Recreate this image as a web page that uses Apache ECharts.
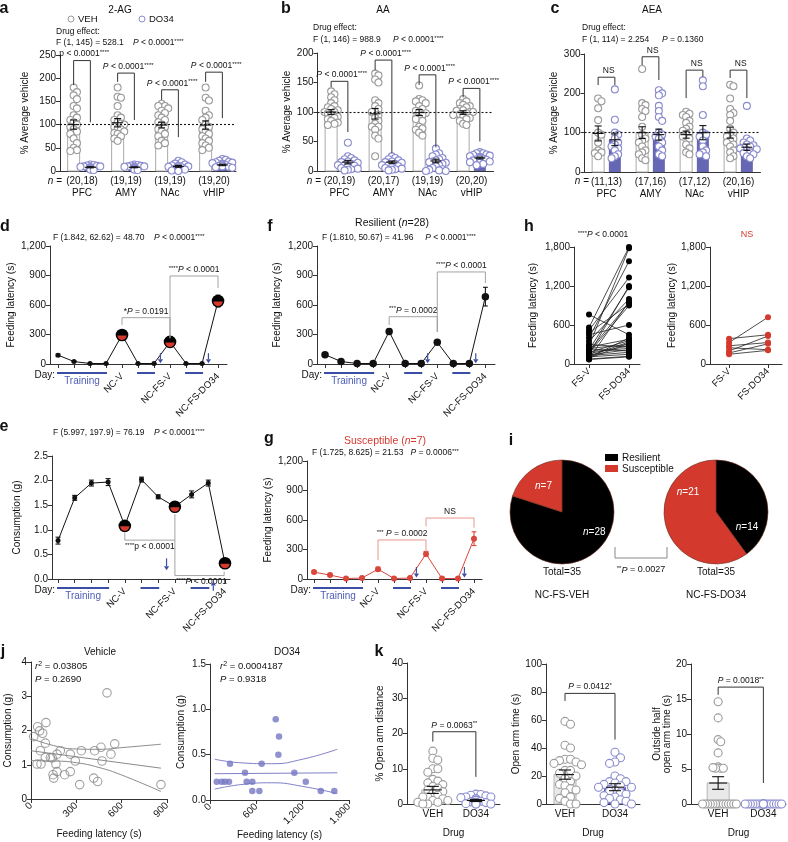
<!DOCTYPE html>
<html>
<head>
<meta charset="utf-8">
<script src="https://cdn.jsdelivr.net/npm/echarts@6.0.0/dist/echarts.min.js"></script>
<style>
html,body{margin:0;padding:0;background:#fff;}
#chart{width:788px;height:842px;}
</style>
</head>
<body>
<div id="chart"></div>
<script>
const FONT = '"Liberation Sans", Arial, Helvetica, sans-serif';

/* ======================= DATA ======================= */
const regions = ['PFC', 'AMY', 'NAc', 'vHIP'];

// a: 2-AG
const aN = ['(20,18)', '(19,19)', '(19,19)', '(19,20)'];
const aVehMean = [100, 104, 99, 99];
const aVehSem = [10, 9, 6, 9];
const aDoMean = [8, 8, 10, 13];
const aDoSem = [1.2, 1, 2, 1.5];
const aVehPts = [
  [180, 170, 163, 155, 140, 135, 120, 115, 110, 105, 100, 95, 90, 85, 80, 70, 60, 50, 45, 43],
  [180, 160, 158, 140, 120, 115, 110, 105, 102, 100, 95, 92, 90, 85, 82, 80, 75, 70, 65],
  [145, 140, 140, 135, 130, 125, 120, 115, 110, 105, 100, 95, 90, 85, 80, 75, 65, 60, 55],
  [180, 158, 152, 130, 120, 115, 110, 100, 95, 90, 85, 80, 75, 70, 65, 60, 55, 50, 45]
];
const aDoPts = [
  [14, 13, 12, 11, 10, 10, 9, 8, 8, 7, 7, 6, 6, 5, 5, 4, 3, 2],
  [14, 13, 12, 11, 10, 10, 9, 9, 8, 8, 7, 7, 6, 6, 5, 5, 4, 3, 2],
  [22, 19, 16, 14, 12, 11, 10, 9, 8, 8, 7, 6, 5, 5, 4, 3, 2, 1, 0],
  [26, 24, 22, 20, 19, 18, 17, 16, 15, 14, 14, 13, 12, 12, 11, 10, 10, 9, 8, 7]
];
const aBrkTop = [238, 211, 175, 213];
const aBrkLeft = [185, 192, 153, 192];
const aBrkRight = [105, 110, 73, 114];
const aBrkLab = ['p < 0.0001{s|****}', '{i|P} < 0.0001{s|****}', '{i|P} < 0.0001{s|****}', '{i|P} < 0.0001{s|****}'];

// b: AA
const bN = ['(20,19)', '(20,17)', '(19,19)', '(20,20)'];
const bVehMean = [100, 97, 99, 99];
const bVehSem = [4, 9, 5, 3];
const bDoMean = [15, 15, 17, 22];
const bDoSem = [3, 2, 3, 1.5];
const bVehPts = [
  [135, 130, 125, 120, 115, 110, 108, 105, 103, 100, 100, 98, 95, 92, 90, 88, 85, 82, 80, 78],
  [165, 162, 155, 150, 120, 115, 110, 105, 100, 100, 95, 90, 85, 80, 75, 75, 70, 60, 55, 25],
  [145, 122, 120, 118, 115, 110, 105, 102, 100, 98, 95, 90, 88, 85, 75, 72, 70, 65, 60],
  [122, 118, 115, 112, 110, 108, 105, 103, 102, 100, 100, 98, 96, 95, 92, 90, 88, 85, 80, 78]
];
const bDoPts = [
  [48, 25, 22, 20, 18, 16, 15, 14, 12, 10, 10, 9, 8, 7, 5, 4, 3, 2, 1],
  [25, 22, 20, 18, 16, 15, 14, 12, 10, 10, 8, 6, 5, 4, 3, 2, 1],
  [38, 30, 28, 25, 22, 20, 18, 16, 15, 14, 12, 10, 8, 5, 3, 2, 1, 0, 0],
  [32, 30, 30, 28, 27, 26, 25, 24, 22, 22, 21, 20, 20, 19, 18, 16, 15, 14, 12, 10]
];
const bBrkTop = [152, 188, 163, 140];
const bBrkLeft = [142, 171, 146, 125];
const bBrkRight = [66, 30, 40, 50];
const bBrkLab = ['{i|P} < 0.0001{s|****}', '{i|P} < 0.0001{s|****}', '{i|P} < 0.0001{s|****}', '{i|P} < 0.0001{s|****}'];

// c: AEA
const cN = ['(11,13)', '(17,16)', '(17,12)', '(20,16)'];
const cVehMean = [98, 100, 95, 100];
const cVehSem = [19, 15, 9, 14];
const cDoMean = [82, 95, 100, 63];
const cDoSem = [15, 14, 18, 8];
const cVehPts = [
  [187, 180, 162, 132, 100, 95, 75, 55, 50, 48, 40],
  [262, 175, 170, 160, 155, 140, 115, 95, 85, 80, 75, 65, 55, 50, 45, 35, 30],
  [153, 148, 145, 140, 130, 125, 115, 110, 105, 100, 95, 90, 85, 70, 60, 50, 45],
  [222, 218, 187, 160, 150, 145, 130, 110, 100, 95, 90, 85, 80, 75, 70, 65, 55, 50, 40, 35]
];
const cDoPts = [
  [210, 133, 100, 95, 85, 75, 70, 65, 60, 55, 45, 40, 35],
  [208, 200, 195, 168, 155, 140, 130, 100, 95, 90, 85, 75, 65, 55, 45, 40],
  [233, 218, 145, 100, 95, 90, 80, 65, 55, 50, 45, 40],
  [168, 85, 80, 75, 70, 68, 65, 62, 60, 58, 55, 50, 48, 45, 40, 35]
];
const cBrkTop = [241, 293, 259, 259];
const cBrkLeft = [221, 272, 188, 239];
const cBrkRight = [221, 234, 242, 188];
const cBrkLab = ['NS', 'NS', 'NS', 'NS'];

// d, e, f, g: day series
const dayIdx = [0, 1, 2, 3, 4, 5, 6, 7, 8, 9, 10];
const dayNames = ['', '', '', '', 'NC-V', '', '', 'NC-FS-V', '', '', 'NC-FS-DO34'];
const bigIdx = [4, 7, 10];
const dayBlocks = [[0, 3], [5, 6], [8, 9]];
const dVals = [90, 25, 5, 5, 295, 5, 5, 225, 5, 5, 640];
const dSem = [12, 6, 2, 2, 25, 2, 2, 20, 2, 2, 60];
const dBrk = [[4, 7, 471, 397, 262, 5.5], [7, 10, 895, 262, 773, 8.5]];
const dBrkLab = ['*{i|P} = 0.0191', '{s|****}{i|P} < 0.0001'];
const dArrows = [[6.4, 110, 8], [9.4, 110, 8]];

const fVals = [95, 25, 5, 5, 330, 5, 5, 220, 5, 5, 685];
const fSem = [12, 6, 2, 2, 25, 2, 2, 20, 2, 2, 95];
const fBrk = [[4, 7, 481, 397, 325, 5.5], [7, 10, 936, 325, 824, 8.5]];
const fBrkLab = ['{s|***}{i|P} = 0.0002', '{s|****}{i|P} < 0.0001'];
const fArrows = [[6.4, 110, 8], [9.4, 110, 8]];

const eVals = [0.78, 1.65, 1.95, 1.97, 1.08, 2.02, 1.67, 1.47, 1.72, 1.95, 0.32];
const eSem = [0.07, 0.05, 0.06, 0.07, 0.07, 0.05, 0.04, 0.05, 0.07, 0.06, 0.05];
const eBrk = [[4, 7, 0.79, 0.93, 1.32, 5.5], [7, 9.95, 0.07, 0.79, 0.15, 8.6]];
const eBrkLab = ['{s|****}p < 0.0001', '{s|****}{i|P} < 0.0001'];
const eArrows = [[6.5, 0.42, 0.18], [9.3, -0.24, -0.05]];

const gVals = [70, 40, 5, 10, 100, 5, 10, 255, 5, 5, 410];
const gSem = [10, 8, 3, 3, 20, 3, 3, 25, 3, 3, 70];
const gBrk = [[4, 7, 397, 193, 275, 5.5], [7, 10, 620, 536, 522, 8.5]];
const gBrkLab = ['{s|***} {i|P} = 0.0002', 'NS'];
const gArrows = [[6.4, 122, 15], [9.4, 122, 15]];

// h: paired feeding latency
const hCats = ['FS-V', 'FS-DO34'];
const hResFsv = [760, 560, 520, 480, 450, 400, 350, 300, 280, 260, 240, 220, 200, 190, 180, 170, 160, 150, 140, 130, 120, 110, 100, 90, 80, 75, 70, 230];
const hResDo = [450, 1800, 1330, 920, 600, 1580, 1000, 260, 1780, 380, 300, 1180, 940, 240, 360, 900, 280, 1200, 220, 180, 340, 150, 400, 320, 960, 120, 110, 200];
const hSusFsv = [390, 330, 280, 250, 200, 170, 150];
const hSusDo = [450, 720, 330, 220, 430, 310, 210];

// i: pies
const iVeh = [28, 7];
const iDo = [14, 21];
const iNames = ['Resilient', 'Susceptible'];

// j: correlations
const jVehX = [18, 44, 57, 77, 99, 95, 62, 40, 66, 95, 128, 146, 150, 165, 172, 172, 194, 223, 260, 260, 293, 322, 333, 415, 421, 441, 463, 470, 503, 529, 554, 860, 140];
const jVehY = [1.82, 2.11, 1.99, 1.92, 2.23, 1.63, 1.41, 1.02, 1.02, 1.21, 1.21, 0.71, 0.61, 1.02, 1.31, 0.8, 1.41, 0.71, 0.8, 1.31, 1.11, 0.42, 1.41, 0.61, 1.41, 0.51, 1.51, 1.11, 3.1, 1.31, 1.61, 0.42, 1.2];
const jVehFitX = [0, 860];
const jVehFitY = [1.41, 0.9];
const jVehBandX = [0, 150, 300, 450, 600, 860];
const jVehUp = [1.77, 1.56, 1.46, 1.45, 1.5, 1.6];
const jVehLo = [1.12, 1.11, 1.06, 0.92, 0.7, 0.22];
const jDoX = [87, 151, 194, 246, 259, 453, 475, 548, 548, 639, 669, 851, 894, 885, 1092, 1240, 1434, 1610];
const jDoY = [0.2, 0.2, 0.2, 0.2, 0.4, 0.3, 0.2, 0.2, 0.1, 0.1, 0.4, 0.89, 0.7, 0.5, 0.3, 0.2, 0.1, 0.1];
const jDoFitX = [60, 1650];
const jDoFitY = [0.29, 0.3];
const jDoBandX = [60, 400, 800, 1200, 1650];
const jDoUp = [0.45, 0.41, 0.4, 0.45, 0.56];
const jDoLo = [0.12, 0.17, 0.19, 0.15, 0.07];

// k: elevated plus maze
const kCats = ['VEH', 'DO34'];
const k1Mean = [4.0, 1.0], k1Sem = [1.0, 0.3];
const k1Veh = [15, 13, 12.5, 10, 10, 9, 7, 6.5, 6, 5.5, 5, 4.5, 4, 3.5, 3, 2.5, 2, 2, 1.5, 1, 1, 0.5, 0.5, 0, 0];
const k1Do = [2.8, 2.7, 2.5, 2.3, 2, 2, 1.8, 1.5, 1.5, 1.2, 1, 1, 0.8, 0.6, 0.5, 0.4, 0.3, 0.2, 0.1, 0, 0, 0];
const k1Brk = [0, 1, 20.5, 17.7, 7.7];
const k2Mean = [21, 12], k2Sem = [3.3, 2.5];
const k2Veh = [59, 57, 42, 40, 32, 32, 31, 30, 29, 28, 24, 24, 22, 20, 18, 16, 14, 13, 11, 10, 8, 5, 4, 2, 0, 0];
const k2Do = [37, 33, 30, 29, 20, 18, 16, 16, 15, 14, 13, 12, 12, 10, 9, 8, 7, 6, 5, 4, 3, 2, 1, 0, 0];
const k2Brk = [0, 1, 79, 73.6, 46];
const k3Mean = [3.0, 0], k3Sem = [0.9, 0];
const k3Veh = [14.6, 12.3, 9.2, 8.9, 7.3, 5.3, 5.1, 5.1, 5.1, 5.2, 0, 0, 0, 0, 0, 0, 0, 0, 0, 0, 0, 0, 0, 0];
const k3Do = [0, 0, 0, 0, 0, 0, 0, 0, 0, 0, 0, 0, 0, 0, 0, 0, 0, 0, 0, 0];
const k3Brk = [0, 1, 16.7, 15.6, 3.0];
const kBrkLab = ['{i|P} = 0.0063{s|**}', '{i|P} = 0.0412{s|*}', '{i|P} = 0.0018{s|**}'];

/* ======================= STYLES / HELPERS ======================= */
const BLUE_BAR = '#6667b4', BLUE_DOT = '#8a8bcf', GREY_DOT = '#9b9b9b', RED = '#d3392c', ARROW = '#3b4ea6', AXIS = '#333';
const grids = [], xAxes = [], yAxes = [], series = [], graphics = [];

function merge(a, b) {
  const o = Object.assign({}, a);
  for (const k in b) {
    const bv = b[k], av = a ? a[k] : undefined;
    if (bv && typeof bv === 'object' && !Array.isArray(bv) && av && typeof av === 'object' && !Array.isArray(av)) o[k] = merge(av, bv);
    else o[k] = bv;
  }
  return o;
}
function rich(fs, color) {
  return {
    i: {fontStyle: 'italic', fontSize: fs, fontFamily: FONT, fill: color, color: color},
    s: {fontSize: Math.round(fs * 0.72), fontFamily: FONT, fill: color, color: color, verticalAlign: 'top'}
  };
}
const baseAxis = {
  show: true,
  nameLocation: 'middle',
  axisLine: {show: true, onZero: false, lineStyle: {color: AXIS, width: 1}},
  axisTick: {show: true, length: 4, inside: false, lineStyle: {color: AXIS, width: 1}},
  axisLabel: {color: '#111', fontSize: 10, fontFamily: FONT, margin: 4},
  splitLine: {show: false},
  nameTextStyle: {color: '#111', fontSize: 10, fontFamily: FONT}
};
function addGrid(g, x, y) {
  const i = grids.length;
  grids.push(g);
  xAxes.push(merge(merge(baseAxis, {type: 'value', gridIndex: i}), x));
  yAxes.push(merge(merge(baseAxis, {type: 'value', gridIndex: i}), y));
  return i;
}
function T(x, y, text, o) {
  o = o || {};
  const fs = o.fs || 8.5, col = o.color || '#111', al = o.align || 'left';
  graphics.push({type: 'text', x: x, y: y, z: 100, rotation: o.rot || 0, style: {
    text: text, fill: col, fontSize: fs, fontFamily: FONT, fontWeight: o.bold ? 'bold' : 'normal',
    align: al, textAlign: al, verticalAlign: 'middle', textVerticalAlign: 'middle', rich: rich(fs, col)
  }});
}
function swarm(vals, cx, dx, thr, K) {
  const out = [], cands = [0];
  for (let k = 1; k <= K; k++) cands.push(k, -k);
  vals.forEach(v => {
    for (const c of cands) {
      const x = cx + c * dx;
      if (!out.some(p => Math.abs(p[0] - x) < dx * 0.5 && Math.abs(p[1] - v) < thr)) { out.push([x, v]); return; }
    }
    out.push([cx, v]);
  });
  return out;
}
function rectBars(half, style) {
  return function (params, api) {
    const x = api.value(0), h = api.value(1);
    const a = api.coord([x - half, h]), b = api.coord([x + half, 0]);
    return {type: 'rect', shape: {x: a[0], y: a[1], width: b[0] - a[0], height: Math.max(b[1] - a[1], 0)}, style: style};
  };
}
function errBars(capHalf, color, meanHalf) {
  return function (params, api) {
    const x = api.value(0), m = api.value(1), s = api.value(2);
    if (!s) return null;
    const t = api.coord([x, m + s]), b = api.coord([x, Math.max(m - s, 0)]);
    const c1 = api.coord([x - capHalf, m])[0], c2 = api.coord([x + capHalf, m])[0];
    const st = {stroke: color, lineWidth: 1.1};
    const ch = [
      {type: 'line', shape: {x1: t[0], y1: t[1], x2: b[0], y2: b[1]}, style: st},
      {type: 'line', shape: {x1: c1, y1: t[1], x2: c2, y2: t[1]}, style: st},
      {type: 'line', shape: {x1: c1, y1: b[1], x2: c2, y2: b[1]}, style: st}
    ];
    if (meanHalf) {
      const mm = api.coord([x, m]);
      const m1 = api.coord([x - meanHalf, m])[0], m2 = api.coord([x + meanHalf, m])[0];
      ch.push({type: 'line', shape: {x1: m1, y1: mm[1], x2: m2, y2: mm[1]}, style: st});
    }
    return {type: 'group', children: ch};
  };
}
function bracketR(labels, o) {
  return function (params, api) {
    const x1 = api.value(0), x2 = api.value(1), top = api.value(2), b1 = api.value(3), b2 = api.value(4), lx = api.value(5);
    const p1 = api.coord([x1, b1]), p2 = api.coord([x1, top]), p3 = api.coord([x2, top]), p4 = api.coord([x2, b2]);
    const lp = api.coord([lx, top]);
    const fs = o.fs || 8.5, col = o.textColor || '#111';
    const va = o.below ? 'top' : 'bottom';
    return {type: 'group', children: [
      {type: 'polyline', shape: {points: [p1, p2, p3, p4]}, style: {stroke: o.color || '#222', lineWidth: o.lw || 1, fill: null}},
      {type: 'text', style: {text: labels[params.dataIndex], x: lp[0], y: lp[1] + (o.below ? 2 : -2), align: 'center', textAlign: 'center',
        verticalAlign: va, textVerticalAlign: va, fontSize: fs, fontFamily: FONT, fill: col, rich: rich(fs, col)}}
    ]};
  };
}
function arrowR(color) {
  return function (params, api) {
    const x = api.value(0);
    const a = api.coord([x, api.value(1)]), b = api.coord([x, api.value(2)]);
    const dir = b[1] > a[1] ? 1 : -1, head = 4;
    return {type: 'group', children: [
      {type: 'line', shape: {x1: a[0], y1: a[1], x2: b[0], y2: b[1] - dir * head}, style: {stroke: color, lineWidth: 1.2}},
      {type: 'polygon', shape: {points: [[b[0] - 2.6, b[1] - dir * head], [b[0] + 2.6, b[1] - dir * head], [b[0], b[1]]]}, style: {fill: color}}
    ]};
  };
}
function daySegR(params, api) {
  const a = api.coord([api.value(0), 0]), b = api.coord([api.value(1), 0]);
  const ch = [{type: 'line', shape: {x1: a[0] - 1, y1: a[1] + 9, x2: b[0] + 1, y2: b[1] + 9}, style: {stroke: ARROW, lineWidth: 2}}];
  if (params.dataIndex === 0) {
    ch.push({type: 'text', style: {text: 'Training', x: (a[0] + b[0]) / 2, y: a[1] + 17, align: 'center', textAlign: 'center', verticalAlign: 'middle', textVerticalAlign: 'middle', fontSize: 10, fontFamily: FONT, fill: '#4d5db8'}});
    ch.push({type: 'text', style: {text: 'Day:', x: a[0] - 3, y: a[1] + 11, align: 'right', textAlign: 'right', verticalAlign: 'middle', textVerticalAlign: 'middle', fontSize: 10, fontFamily: FONT, fill: '#111'}});
  }
  return {type: 'group', children: ch};
}
function bigDotR(params, api) {
  const p = api.coord([api.value(0), api.value(1)]);
  return {type: 'group', children: [
    {type: 'circle', shape: {cx: p[0], cy: p[1], r: 6.3}, style: {fill: '#000'}},
    {type: 'sector', shape: {cx: p[0], cy: p[1] + 0.5, r0: 0, r: 4.6, startAngle: 0, endAngle: Math.PI, clockwise: true}, style: {fill: RED}}
  ]};
}
function cs(gi, extra) { return Object.assign({type: 'custom', xAxisIndex: gi, yAxisIndex: gi, silent: true}, extra); }

/* ---------- group (bar + dots) panels ---------- */
function groupPanel(p) {
  const gi = addGrid({left: p.left, top: p.top, width: p.width, height: p.height},
    merge({min: p.xmin, max: p.xmax, axisTick: {show: false},
      axisLabel: {customValues: p.labVals, formatter: p.labFmt, fontSize: p.labFs || 10, lineHeight: 12, margin: 4}}, p.xExtra || {}),
    merge({min: 0, max: p.ymax, interval: p.yint, name: p.yName, nameGap: p.nameGap}, p.yExtra || {}));
  const pxX = p.width / (p.xmax - p.xmin), pxY = p.height / p.ymax;
  const dx = p.dxPx / pxX, thr = p.thrPx / pxY, half = p.barPx / 2 / pxX;
  p.sets.forEach((s, si) => {
    series.push(cs(gi, {z: 2, data: s.pos.map((x, i) => [x, s.mean[i]]), renderItem: rectBars(half, s.barStyle)}));
    const pts = [];
    s.pts.forEach((arr, i) => pts.push(...swarm(arr, s.pos[i], dx, thr, s.K || 3)));
    const sc = {type: 'scatter', xAxisIndex: gi, yAxisIndex: gi, z: 3, silent: true, data: pts, symbol: 'circle', symbolSize: s.dotSize || 7,
      itemStyle: s.dotStyle};
    if (si === 0 && p.refLine) sc.markLine = {silent: true, symbol: 'none', label: {show: false}, z: 5,
      lineStyle: {type: [2, 2], color: '#111', width: 1.1}, data: [{yAxis: p.refLine}]};
    series.push(sc);
    series.push(cs(gi, {z: 4, data: s.pos.map((x, i) => [x, s.mean[i], s.sem[i]]), renderItem: errBars(p.capPx / pxX, '#111', p.meanPx ? p.meanPx / pxX : 0)}));
  });
  series.push(cs(gi, {z: 6, data: p.brk, renderItem: bracketR(p.brkLab, {fs: 8.5, color: '#333'})}));
  return gi;
}

const OFF = 0.19;
const posV = regions.map((_, g) => g - OFF), posD = regions.map((_, g) => g + OFF);
const vehBar = {fill: '#fff', stroke: '#aaa', lineWidth: 1};
const doBar = {fill: BLUE_BAR};
const vehDot = {color: '#fff', borderColor: GREY_DOT, borderWidth: 1.1, opacity: 1};
const doDot = {color: '#fff', borderColor: BLUE_DOT, borderWidth: 1.1, opacity: 1};
function brkData(top, l, r) { return top.map((t, g) => [posV[g], posD[g], t, l[g], r[g], (posV[g] + posD[g]) / 2 + 0.05]); }
function abc(left, top, height, ymax, yint, nameGap, nLab, vm, vs, dm, ds, vp, dp, brk, brkLab) {
  return groupPanel({left: left, top: top, width: 176, height: height, xmin: -0.5, xmax: 3.5, ymax: ymax, yint: yint,
    yName: '% Average vehicle', nameGap: nameGap, labVals: [0, 1, 2, 3], labFmt: v => nLab[Math.round(v)] + '\n' + regions[Math.round(v)],
    dxPx: 3.3, thrPx: 5, barPx: 12, capPx: 3.5, meanPx: 5.5, refLine: 100,
    sets: [{pos: posV, mean: vm, sem: vs, pts: vp, barStyle: vehBar, dotStyle: vehDot, K: 3},
           {pos: posD, mean: dm, sem: ds, pts: dp, barStyle: doBar, dotStyle: doDot, K: 3}],
    brk: brk, brkLab: brkLab});
}
abc(60, 55, 116, 250, 50, 30, aN, aVehMean, aVehSem, aDoMean, aDoSem, aVehPts, aDoPts, brkData(aBrkTop, aBrkLeft, aBrkRight), aBrkLab);
abc(317.5, 53, 118, 200, 50, 25, bN, bVehMean, bVehSem, bDoMean, bDoSem, bVehPts, bDoPts, brkData(bBrkTop, bBrkLeft, bBrkRight), bBrkLab);
abc(584.5, 54, 118, 300, 100, 25, cN, cVehMean, cVehSem, cDoMean, cDoSem, cVehPts, cDoPts, brkData(cBrkTop, cBrkLeft, cBrkRight), cBrkLab);

/* ---------- k panels ---------- */
const kVehBar = {fill: '#e9e9e9', stroke: '#b5b5b5', lineWidth: 1};
function kPanel(left, width, top, height, xmin, xmax, ymax, yint, yName, nameGap, mean, sem, vp, dp, brk, lab, dxPx, K) {
  return groupPanel({left: left, top: top, width: width, height: height, xmin: xmin, xmax: xmax, ymax: ymax, yint: yint,
    yName: yName, nameGap: nameGap, labVals: [0, 1], labFmt: v => kCats[Math.round(v)], labFs: 10,
    xExtra: {name: 'Drug', nameGap: 24}, dxPx: dxPx, thrPx: 6.5, barPx: 22, capPx: 6, meanPx: 9,
    sets: [{pos: [0], mean: [mean[0]], sem: [sem[0]], pts: [vp], barStyle: kVehBar, dotStyle: vehDot, dotSize: 8, K: K},
           {pos: [1], mean: [mean[1]], sem: [sem[1]], pts: [dp], barStyle: {fill: '#5c5eae'}, dotStyle: doDot, dotSize: 8, K: K}],
    brk: [brk.concat([0.5])], brkLab: [lab]});
}
kPanel(407, 93, 663, 141, -0.6, 1.56, 40, 10, '% Open arm distance', 22, k1Mean, k1Sem, k1Veh, k1Do, k1Brk, kBrkLab[0], 5, 3);
kPanel(546, 94, 664, 140, -0.38, 1.5, 100, 20, 'Open arm time (s)', 24, k2Mean, k2Sem, k2Veh, k2Do, k2Brk, kBrkLab[1], 5.5, 3);
kPanel(691, 95, 664, 140, -0.6, 1.5, 20, 5, 'Outside half\nopen arm time (s)', 16, k3Mean, k3Sem, k3Veh, k3Do, k3Brk, kBrkLab[2], 2.6, 7);

/* ---------- day panels d,e,f,g ---------- */
function dayPanel(p) {
  const gi = addGrid({left: p.left, top: p.top, width: p.width, height: p.height},
    {min: p.xmin, max: p.xmax, axisTick: {customValues: dayIdx},
      axisLabel: {customValues: bigIdx, formatter: v => dayNames[Math.round(v)], rotate: 45, margin: 11, fontSize: 9.5}},
    {min: 0, max: p.ymax, interval: p.yint, name: p.yName, nameGap: p.nameGap, axisLabel: {formatter: p.yFmt}});
  series.push(cs(gi, {z: 2, data: dayIdx.map((d, i) => [d, p.vals[i], p.sem[i]]), renderItem: errBars(0.15, p.color, 0)}));
  series.push({type: 'line', xAxisIndex: gi, yAxisIndex: gi, silent: true, z: 3, data: dayIdx.map((d, i) => [d, p.vals[i]]),
    symbol: 'circle', symbolSize: p.dot, showSymbol: true, lineStyle: {color: p.color, width: 1}, itemStyle: {color: p.color}});
  if (p.big) series.push(cs(gi, {z: 5, data: bigIdx.map(d => [d, p.vals[d]]), renderItem: bigDotR}));
  series.push(cs(gi, {z: 6, data: p.brk, renderItem: bracketR(p.brkLab, {fs: 8.5, color: p.brkColor, lw: 0.9, below: p.below, textColor: '#111'})}));
  series.push(cs(gi, {z: 6, data: p.arrows, renderItem: arrowR(ARROW)}));
  series.push(cs(gi, {z: 6, data: dayBlocks, renderItem: daySegR}));
  return gi;
}
const thousands = v => v.toLocaleString('en-US');
dayPanel({left: 50, top: 246, width: 177, height: 118, xmin: -0.5, xmax: 10.56, ymax: 1200, yint: 300, yName: 'Feeding latency (s)', nameGap: 34,
  yFmt: thousands, vals: dVals, sem: dSem, color: '#111', dot: 5, big: true, brk: dBrk, brkLab: dBrkLab, brkColor: '#999', arrows: dArrows});
dayPanel({left: 317, top: 246, width: 178, height: 118, xmin: -0.5, xmax: 10.6, ymax: 1200, yint: 300, yName: 'Feeding latency (s)', nameGap: 35,
  yFmt: thousands, vals: fVals, sem: fSem, color: '#111', dot: 7.5, big: false, brk: fBrk, brkLab: fBrkLab, brkColor: '#999', arrows: fArrows});
dayPanel({left: 52, top: 456, width: 178, height: 123, xmin: -0.36, xmax: 10.3, ymax: 2.5, yint: 0.5, yName: 'Consumption (g)', nameGap: 30,
  yFmt: v => v.toFixed(1), vals: eVals, sem: eSem, color: '#111', dot: 5, big: true, brk: eBrk, brkLab: eBrkLab, brkColor: '#999', below: true, arrows: eArrows});
dayPanel({left: 307, top: 461, width: 175, height: 118, xmin: -0.44, xmax: 10.5, ymax: 1200, yint: 300, yName: 'Feeding latency (s)', nameGap: 34,
  yFmt: thousands, vals: gVals, sem: gSem, color: '#d9463b', dot: 6, big: false, brk: gBrk, brkLab: gBrkLab, brkColor: '#e58a80', arrows: gArrows});

/* ---------- h panels ---------- */
function pairR(col) {
  return function (params, api) {
    const a = api.coord([0, api.value(0)]), b = api.coord([1, api.value(1)]);
    return {type: 'group', children: [
      {type: 'line', shape: {x1: a[0], y1: a[1], x2: b[0], y2: b[1]}, style: {stroke: '#222', lineWidth: 0.8}},
      {type: 'circle', shape: {cx: a[0], cy: a[1], r: 3}, style: {fill: col}},
      {type: 'circle', shape: {cx: b[0], cy: b[1], r: 3}, style: {fill: col}}
    ]};
  };
}
function hPanel(left, width, xmin, xmax, nameGap, a, b, col) {
  const gi = addGrid({left: left, top: 247, width: width, height: 117},
    {min: xmin, max: xmax, axisTick: {customValues: [0, 1]}, axisLabel: {customValues: [0, 1], formatter: v => hCats[Math.round(v)], rotate: 45, margin: 6, fontSize: 9.5}},
    {min: 0, max: 1800, interval: 600, name: 'Feeding latency (s)', nameGap: nameGap, axisLabel: {formatter: thousands}});
  series.push(cs(gi, {z: 3, data: a.map((v, i) => [v, b[i]]), renderItem: pairR(col)}));
}
hPanel(574, 66, -0.375, 1.275, 36, hResFsv, hResDo, '#000');
hPanel(710, 72, -0.49, 1.36, 33, hSusFsv, hSusDo, RED);

/* ---------- j panels ---------- */
function jPanel(left, top, width, height, xmax, xint, ymax, yint, yFmt, nameGap, px, py, dotStyle, dotSize, fitX, fitY, bandX, up, lo, lineCol) {
  const gi = addGrid({left: left, top: top, width: width, height: height},
    {min: 0, max: xmax, interval: xint, name: 'Feeding latency (s)', nameGap: 30, axisLabel: {rotate: 45, formatter: thousands, margin: 5}},
    {min: 0, max: ymax, interval: yint, name: 'Consumption (g)', nameGap: nameGap, axisLabel: {formatter: yFmt}});
  const ls = {color: lineCol, width: 1};
  series.push({type: 'line', xAxisIndex: gi, yAxisIndex: gi, silent: true, z: 2, symbol: 'none', lineStyle: ls, data: fitX.map((x, i) => [x, fitY[i]])});
  series.push({type: 'line', xAxisIndex: gi, yAxisIndex: gi, silent: true, z: 2, symbol: 'none', smooth: true, lineStyle: ls, data: bandX.map((x, i) => [x, up[i]])});
  series.push({type: 'line', xAxisIndex: gi, yAxisIndex: gi, silent: true, z: 2, symbol: 'none', smooth: true, lineStyle: ls, data: bandX.map((x, i) => [x, lo[i]])});
  series.push({type: 'scatter', xAxisIndex: gi, yAxisIndex: gi, silent: true, z: 3, symbol: 'circle', symbolSize: dotSize, itemStyle: dotStyle, data: px.map((x, i) => [x, py[i]])});
}
jPanel(31, 662, 136, 137, 900, 300, 4, 1, v => String(v), 18, jVehX, jVehY, {color: 'rgba(255,255,255,0)', borderColor: '#8a8a8a', borderWidth: 1.1}, 8.5,
  jVehFitX, jVehFitY, jVehBandX, jVehUp, jVehLo, '#8a8a8a');
jPanel(210, 664, 139, 136, 1800, 600, 1.5, 0.5, v => v.toFixed(1), 24, jDoX, jDoY, {color: '#7475c2'}, 6.5,
  jDoFitX, jDoFitY, jDoBandX, jDoUp, jDoLo, '#7f80c8');

/* ---------- i pies ---------- */
function pie(cx, vals) {
  series.push({type: 'pie', center: [cx, 512], radius: 52, startAngle: 90, clockwise: true, silent: true, animation: false,
    label: {show: false}, labelLine: {show: false}, itemStyle: {borderColor: '#6b2a20', borderWidth: 0.6},
    data: iNames.map((n, i) => ({name: n, value: vals[i], itemStyle: {color: i === 0 ? '#000' : RED}}))});
}
pie(562, iVeh);
pie(716, iDo);

/* ======================= TEXT / ANNOTATIONS ======================= */
[['a', 4, 9], ['b', 286, 9], ['c', 555, 9], ['d', 5, 227], ['f', 270, 227], ['h', 529, 227], ['e', 4, 427], ['g', 269, 439], ['i', 511, 441], ['j', 3, 652], ['k', 379, 652]]
  .forEach(l => T(l[1], l[2], l[0], {fs: 16, bold: true, align: 'center'}));
// a
T(120, 10, '2-AG', {fs: 10, align: 'center'});
graphics.push({type: 'circle', shape: {cx: 71, cy: 19, r: 3}, style: {fill: '#fff', stroke: GREY_DOT, lineWidth: 1}});
T(78, 19, 'VEH', {fs: 9.5});
graphics.push({type: 'circle', shape: {cx: 142, cy: 19, r: 3}, style: {fill: '#fff', stroke: BLUE_DOT, lineWidth: 1}});
T(149, 19, 'DO34', {fs: 9.5});
T(56, 32, 'Drug effect:');
T(56, 43, 'F (1, 145) = 528.1');
T(133, 43, '{i|P} < 0.0001{s|****}');
T(62, 181, '{i|n} =', {fs: 10, align: 'right'});
// b
T(383, 10, 'AA', {fs: 10, align: 'center'});
T(313, 28, 'Drug effect:');
T(313, 40, 'F (1, 146) = 988.9');
T(393, 40, '{i|P} < 0.0001{s|****}');
T(321, 181, '{i|n} =', {fs: 10, align: 'right'});
// c
T(652, 10, 'AEA', {fs: 10, align: 'center'});
T(582, 28, 'Drug effect:');
T(582, 40, 'F (1, 114) = 2.254');
T(662, 40, '{i|P} = 0.1360');
T(589, 181, '{i|n} =', {fs: 10, align: 'right'});
// d, f, h
T(53, 238, 'F (1.842, 62.62) = 48.70    {i|P} < 0.0001{s|****}');
T(392, 223, 'Resilient ({i|n}=28)', {fs: 10.5, align: 'center'});
T(322, 238, 'F (1.810, 50.67) = 41.96     {i|P} < 0.0001{s|****}');
T(603, 235, '{s|****}{i|P} < 0.0001', {align: 'center'});
T(747, 235, 'NS', {align: 'center', color: RED, fs: 9});
// e, g
T(53, 433, 'F (5.997, 197.9) = 76.19    {i|P} < 0.0001{s|****}');
T(385, 441, 'Susceptible ({i|n}=7)', {fs: 10.5, align: 'center', color: RED});
T(312, 453, 'F (1.725, 8.625) = 21.53   {i|P} = 0.0006{s|***}');
// i
graphics.push({type: 'rect', shape: {x: 605, y: 454, width: 13, height: 7}, style: {fill: '#000'}});
graphics.push({type: 'rect', shape: {x: 605, y: 465, width: 13, height: 7}, style: {fill: RED}});
T(622, 458, iNames[0], {fs: 10});
T(622, 469, iNames[1], {fs: 10});
T(535, 486, '{i|n}=' + iVeh[1], {fs: 10, color: '#fff'});
T(583, 532, '{i|n}=' + iVeh[0], {fs: 10, color: '#fff'});
T(688, 492, '{i|n}=' + iDo[1], {fs: 10, color: '#fff', align: 'center'});
T(747, 527, '{i|n}=' + iDo[0], {fs: 10, color: '#fff', align: 'center'});
T(562, 572, 'Total=' + (iVeh[0] + iVeh[1]), {fs: 10, align: 'center'});
T(716, 572, 'Total=' + (iDo[0] + iDo[1]), {fs: 10, align: 'center'});
T(562, 595, 'NC-FS-VEH', {fs: 10, align: 'center'});
T(716, 595, 'NC-FS-DO34', {fs: 10, align: 'center'});
graphics.push({type: 'polyline', shape: {points: [[615, 547], [615, 558], [667, 558], [667, 547]]}, style: {stroke: '#888', lineWidth: 1, fill: null}});
T(641, 570, '{s|**}{i|P} = 0.0027', {fs: 9, align: 'center'});
// j
T(100, 652, 'Vehicle', {fs: 10, align: 'center'});
T(287, 652, 'DO34', {fs: 10, align: 'center'});
T(35, 666, '{i|r}{s|2} = 0.03805', {fs: 9.5});
T(35, 679, '{i|P} = 0.2690', {fs: 9.5});
T(220, 666, '{i|r}{s|2} = 0.0004187', {fs: 9.5});
T(220, 679, '{i|P} = 0.9318', {fs: 9.5});

const chart = echarts.init(document.getElementById('chart'), null, {renderer: 'canvas', width: 788, height: 842});
chart.setOption({
  animation: false,
  backgroundColor: '#fff',
  textStyle: {fontFamily: FONT},
  grid: grids,
  xAxis: xAxes,
  yAxis: yAxes,
  series: series,
  graphic: {elements: graphics}
});
</script>
</body>
</html>
